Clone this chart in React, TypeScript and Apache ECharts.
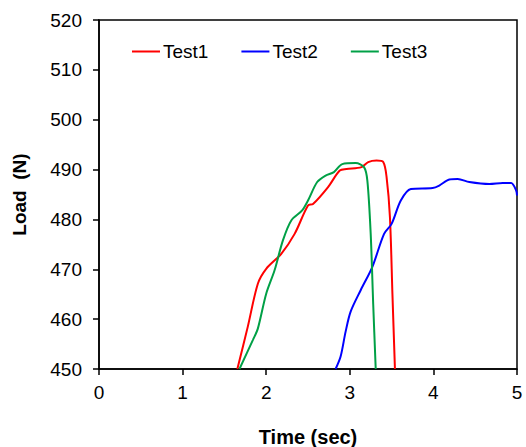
import React, { useEffect, useRef } from "react";
import * as echarts from "echarts";

const xTicks = [0, 1, 2, 3, 4, 5];
const yTicks = [450, 460, 470, 480, 490, 500, 510, 520];

const test1: [number, number][] = [
  [1.655, 450], [1.78, 458.5], [1.9, 467.1], [2.0, 470.1], [2.18, 473.1], [2.34, 477.1],
  [2.5, 482.8], [2.56, 483.1], [2.74, 486.5], [2.88, 489.8], [2.96, 490.1], [3.14, 490.5],
  [3.22, 491.5], [3.32, 491.8], [3.4, 491.5], [3.44, 488.5], [3.48, 480.5], [3.51, 465], [3.54, 450],
];

const test2: [number, number][] = [
  [2.83, 450], [2.89, 452.5], [2.95, 457.5], [3.01, 461.5], [3.13, 465.8], [3.27, 470.5],
  [3.41, 477.1], [3.5, 479.1], [3.61, 483.8], [3.73, 486.1], [3.99, 486.3], [4.07, 486.8],
  [4.19, 488.0], [4.29, 488.1], [4.43, 487.5], [4.67, 487.1], [4.83, 487.3], [4.93, 487.3],
  [4.99, 485.8], [5.0, 484.8],
];

const test3: [number, number][] = [
  [1.68, 450], [1.84, 455.8], [1.9, 458.1], [2.0, 465.1], [2.1, 469.8], [2.2, 475.8],
  [2.3, 479.8], [2.43, 481.8], [2.5, 483.8], [2.61, 487.5], [2.71, 488.8], [2.81, 489.5],
  [2.91, 491.1], [3.07, 491.3], [3.17, 490.5], [3.21, 487.8], [3.25, 477.1], [3.28, 463], [3.31, 450],
];

const seriesNames = ["Test1", "Test2", "Test3"];
const seriesColors = ["#ff0000", "#0000ff", "#00a046"];

export default function App() {
  const ref = useRef<HTMLDivElement>(null);
  useEffect(() => {
    if (!ref.current) return;
    const chart = echarts.init(ref.current, null, { renderer: "svg" });
    const font = "Liberation Sans, Arial, sans-serif";
    const datasets = [test1, test2, test3];
    chart.setOption({
      animation: false,
      textStyle: { fontFamily: font },
      grid: {
        left: 99, right: 9, top: 20, bottom: 78,
        outerBoundsMode: "none", containLabel: false,
        show: true, borderColor: "#000", borderWidth: 1.5,
      },
      legend: {
        top: 42, left: 132, padding: 0,
        icon: "rect", itemWidth: 28, itemHeight: 2, itemGap: 33,
        textStyle: { fontSize: 19, color: "#000", fontFamily: font, padding: [0, 0, 0, -2] },
        data: seriesNames,
      },
      xAxis: {
        type: "value", min: xTicks[0], max: xTicks[xTicks.length - 1], interval: 1,
        name: "Time (sec)", nameLocation: "middle", nameGap: 58,
        nameTextStyle: { fontSize: 20, fontWeight: "bold", color: "#000", fontFamily: font },
        axisLine: { lineStyle: { color: "#000", width: 1.5 } },
        axisTick: { show: true, length: 6, lineStyle: { color: "#000", width: 1.5 } },
        axisLabel: { fontSize: 19, color: "#000", margin: 14, fontFamily: font },
        splitLine: { show: false },
      },
      yAxis: {
        type: "value", min: yTicks[0], max: yTicks[yTicks.length - 1], interval: 10,
        name: "Load  (N)", nameLocation: "middle", nameGap: 70,
        nameTextStyle: { fontSize: 19, fontWeight: "bold", color: "#000", fontFamily: font },
        axisLine: { lineStyle: { color: "#000", width: 1.5 } },
        axisTick: { show: true, length: 6, lineStyle: { color: "#000", width: 1.5 } },
        axisLabel: { fontSize: 19, color: "#000", margin: 17, fontFamily: font },
        splitLine: { show: false },
      },
      series: seriesNames.map((n, i) => ({
        name: n, type: "line", data: datasets[i], showSymbol: false, smooth: 0.3,
        clip: true, color: seriesColors[i],
        lineStyle: { width: 2, color: seriesColors[i] },
      })),
    });
    return () => chart.dispose();
  }, []);
  return <div ref={ref} style={{ width: 526, height: 447, position: "absolute", left: 0, top: 0 }} />;
}
